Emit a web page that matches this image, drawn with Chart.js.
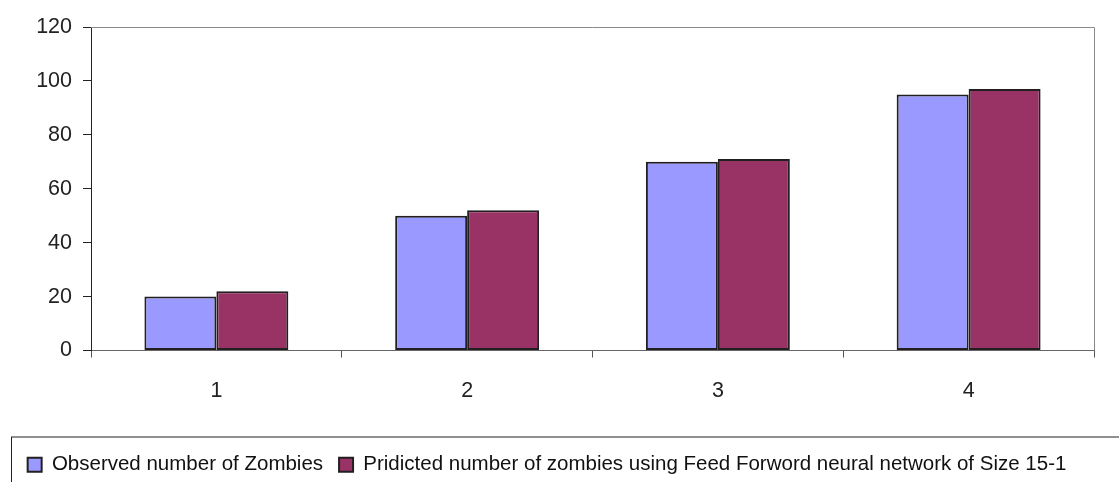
<!DOCTYPE html>
<html>
<head>
<meta charset="utf-8">
<script src="https://cdn.jsdelivr.net/npm/chart.js@4"></script>
<style>
  html, body { margin: 0; padding: 0; background: #fff; overflow: hidden; }
  #wrap { width: 1119px; height: 485px; position: relative; }
</style>
</head>
<body>
<div id="wrap"><canvas id="myChart"></canvas></div>
<script>
var categories = ["1", "2", "3", "4"];
var observed = [20, 50, 70, 95];
var predicted = [22, 52, 71, 97];
var seriesNames = [
    "Observed number of Zombies",
    "Pridicted number of zombies using Feed Forword neural network of Size 15-1"
];

// gray frame on top and right of the plot, box around the legend
var framePlugin = {
    id: 'frame',
    afterDraw: function (chart) {
        let ctx = chart.ctx
        let a = chart.chartArea
        ctx.save()
        ctx.strokeStyle = '#8a8a8a'
        ctx.lineWidth = 1
        ctx.beginPath()
        ctx.moveTo(a.left, a.top + 0.5)
        ctx.lineTo(a.right + 0.5, a.top + 0.5)
        ctx.lineTo(a.right + 0.5, a.bottom)
        ctx.stroke()

        let lg = chart.legend
        ctx.strokeStyle = '#222'
        ctx.strokeRect(11.5, lg.top - 1.5, chart.width + 20, 80)
        ctx.restore()
    }
}

function getGraph() {
    const ctx = document.getElementById('myChart');
    Chart.defaults.font.family = '"Liberation Sans", Arial, sans-serif';
    Chart.defaults.color = '#222';

    new Chart(ctx, {
        type: 'bar',
        data: {
            labels: categories,
            datasets: [{
                label: seriesNames[0],
                data: observed,
                backgroundColor: '#9999ff',
                borderColor: '#231f20',
                borderWidth: 2,
                borderSkipped: false,
                categoryPercentage: 0.574,
                barPercentage: 1
            }, {
                label: seriesNames[1],
                data: predicted,
                backgroundColor: '#993366',
                borderColor: '#231f20',
                borderWidth: 2,
                borderSkipped: false,
                categoryPercentage: 0.574,
                barPercentage: 1
            }]
        },
        options: {
            responsive: true,
            maintainAspectRatio: false,
            animation: false,
            layout: { padding: { top: 27, right: 25, left: 0, bottom: 0 } },
            plugins: {
                tooltip: { enabled: false },
                legend: {
                    position: 'bottom',
                    labels: {
                        font: { size: 20.5 },
                        boxWidth: 14,
                        boxHeight: 14,
                        padding: 16,
                        color: '#111',
                        generateLabels: function (chart) {
                            let items = Chart.defaults.plugins.legend.labels.generateLabels(chart)
                            items.forEach(function (it) { it.lineWidth = 2; it.strokeStyle = '#231f20' })
                            return items
                        }
                    }
                }
            },
            scales: {
                x: {
                    grid: { offset: true, drawOnChartArea: false, tickLength: 7, color: '#555' },
                    border: { color: '#666', width: 1 },
                    ticks: { font: { size: 21.5 }, padding: 21, color: '#222' },
                    afterFit: function (s) { s.height = 88 }
                },
                y: {
                    min: 0,
                    max: 120,
                    ticks: { stepSize: 20, font: { size: 21.5 }, padding: 11, color: '#222' },
                    grid: { drawOnChartArea: false, tickLength: 8, color: '#222' },
                    border: { color: '#222', width: 1 },
                    afterFit: function (s) { s.width = 91 }
                }
            }
        },
        plugins: [framePlugin]
    });
}
getGraph();
</script>
</body>
</html>
